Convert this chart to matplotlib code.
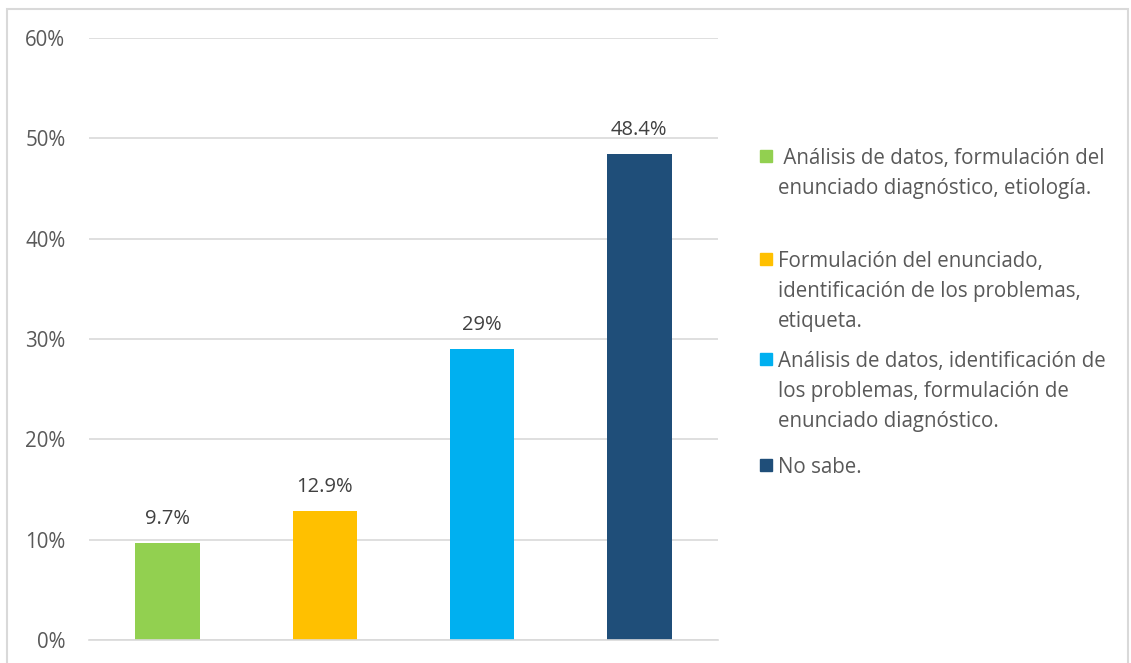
import matplotlib.pyplot as plt
from matplotlib.patches import Rectangle

plt.rcParams["font.family"] = ["Open Sans", "DejaVu Sans"]

CATEGORIES = [
    " Análisis de datos, formulación del\nenunciado diagnóstico, etiología.",
    "Formulación del enunciado,\nidentificación de los problemas,\netiqueta.",
    "Análisis de datos, identificación de\nlos problemas, formulación de\nenunciado diagnóstico.",
    "No sabe.",
]
VALUES = [9.7, 12.9, 29.0, 48.4]
VALUE_LABELS = ["9.7%", "12.9%", "29%", "48.4%"]
COLORS = ["#92D050", "#FFC000", "#00B0F0", "#1F4E79"]
Y_TICKS = [0, 10, 20, 30, 40, 50, 60]

W, H = 1131, 663
fig = plt.figure(figsize=(W / 100, H / 100), dpi=100)

# outer chart frame
fig.patches.append(Rectangle((7 / W, -0.01), (1121) / W, 1 - 9 / H + 0.01,
                             transform=fig.transFigure, fill=False,
                             edgecolor="#D9D9D9", linewidth=1.5))

ax = fig.add_axes([89 / W, 1 - 640 / H, (718 - 89) / W, (640 - 38) / H])
x = range(len(VALUES))
bars = ax.bar(x, VALUES, width=0.41, color=COLORS, zorder=2)
for bar, label in zip(bars, VALUE_LABELS):
    ax.annotate(label, (bar.get_x() + bar.get_width() / 2, bar.get_height()),
                xytext=(0, 10), textcoords="offset points", ha="center",
                va="bottom", fontsize=14.5, color="#404040")

ax.set_xlim(-0.5, len(VALUES) - 0.5)
ax.set_ylim(0, 60)
ax.set_yticks(Y_TICKS)
ax.set_yticklabels([f"{t}%" for t in Y_TICKS], fontsize=14.8, color="#595959")
ax.tick_params(axis="y", length=0, pad=17)
ax.set_xticks([])
ax.grid(axis="y", color="#D9D9D9", linewidth=1.2, zorder=0)
for side in ["top", "right", "left"]:
    ax.spines[side].set_visible(False)
ax.spines["bottom"].set_color("#D9D9D9")
ax.spines["bottom"].set_linewidth(1.2)

# legend drawn by hand so the entries keep their uneven spacing
entry_tops = [147, 250, 350, 456]
for top, label, color in zip(entry_tops, CATEGORIES, COLORS):
    fig.patches.append(Rectangle((760 / W, 1 - (top + 15) / H), 12 / W, 12 / H,
                                 transform=fig.transFigure, color=color))
    fig.text(778 / W, 1 - (top + 1) / H, label, ha="left", va="top", fontsize=14.8,
             color="#595959", linespacing=1.55)

fig.savefig("out.png", dpi=100)
